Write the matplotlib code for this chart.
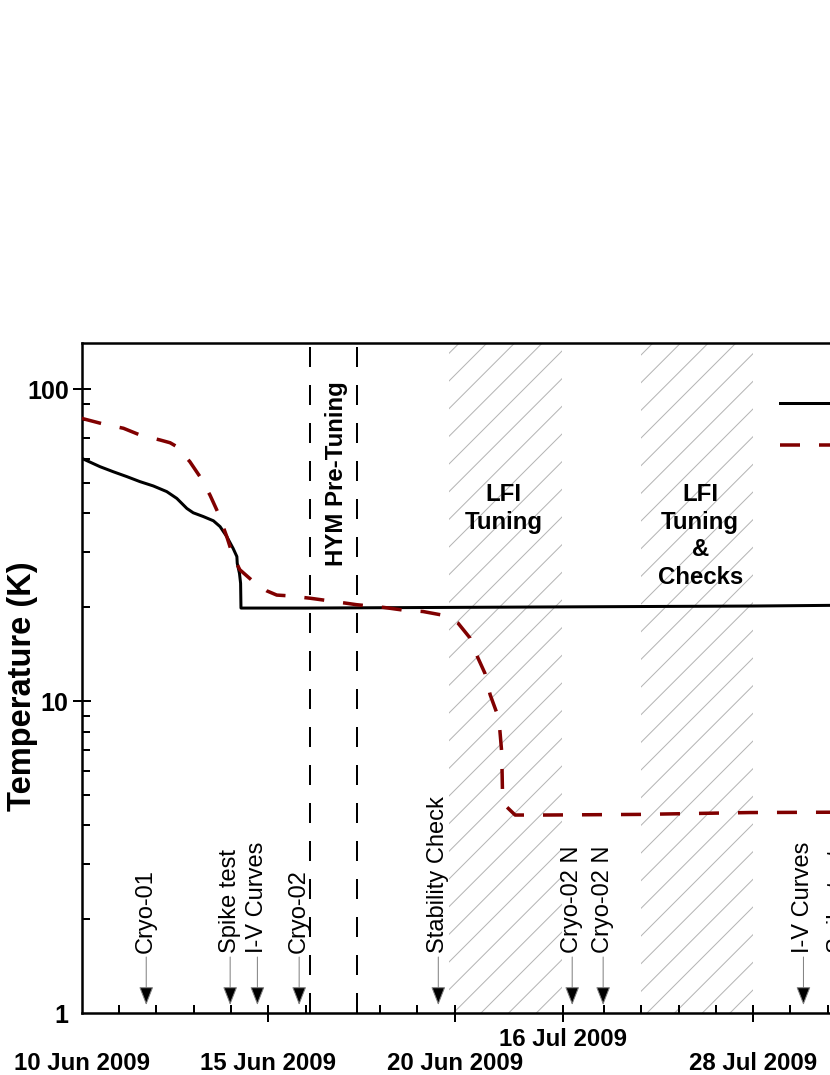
import matplotlib
matplotlib.use("Agg")
import matplotlib.pyplot as plt
from matplotlib.ticker import NullFormatter, LogLocator

DPI = 166
W, H = 830, 1075


def pt(px):
    return px * 72.0 / DPI


plt.rcParams['font.family'] = ['Liberation Sans', 'DejaVu Sans']
plt.rcParams['hatch.linewidth'] = pt(1.0)
plt.rcParams['lines.scale_dashes'] = False

# ---------------- data (x in axis units: 0 = 10 Jun 2009) ----------------
fp_x = [0.0, 0.49, 0.85, 1.21, 1.56, 1.92, 2.28, 2.55, 2.82, 2.99, 3.26, 3.53,
        3.71, 3.89, 4.06, 4.16, 4.17, 4.23, 4.26, 4.27, 6.0, 10.0, 14.0, 18.0,
        20.06, 22.0]
fp_T = [60.1, 56.5, 54.4, 52.5, 50.6, 49.0, 47.0, 44.7, 41.5, 40.2, 39.1, 37.9,
        36.3, 33.7, 30.9, 29.1, 27.7, 25.7, 23.9, 19.9, 19.9, 20.0, 20.1, 20.2,
        20.3, 20.35]

ref_x = [0.0, 0.58, 1.12, 1.56, 2.10, 2.37, 2.55, 2.90, 3.17, 3.44, 3.66, 3.89,
         4.06, 4.24, 4.60, 4.96, 5.23, 5.50, 6.12, 6.75, 7.37, 8.09, 8.62, 9.15,
         9.66, 10.09, 10.41, 10.62, 10.81, 10.95, 11.13, 11.21, 11.26, 11.28,
         11.40, 11.62, 12.42, 14.97, 17.92, 20.06, 22.0]
ref_T = [80.7, 77.4, 75.0, 71.4, 68.8, 67.4, 65.5, 58.6, 52.5, 45.8, 40.1, 33.7,
         29.1, 26.4, 24.2, 22.6, 21.9, 21.8, 21.4, 20.9, 20.4, 20.0, 19.6, 19.4,
         18.9, 17.8, 15.96, 13.8, 12.3, 10.5, 9.17, 8.09, 6.88, 5.2,
         4.58, 4.32, 4.32, 4.34, 4.40, 4.41, 4.42]

series_labels = ["LFI Focal Plane", "4K Reference Loads"]

date_ticks = [0, 5, 10, 12.9, 18]
date_labels = ["10 Jun 2009", "15 Jun 2009", "20 Jun 2009", "16 Jul 2009", "28 Jul 2009"]
date_row = [1, 1, 1, 0, 1]          # 0 = upper row, 1 = lower row
minor_ticks = [1, 2, 3, 4, 6, 8, 9, 14, 15, 16, 17, 19, 20, 21]

event_x = [1.73, 3.98, 4.71, 5.83, 9.56, 13.15, 13.98, 19.35, 20.28]
event_labels = ["Cryo-01", "Spike test", "I-V Curves", "Cryo-02", "Stability Check",
                "Cryo-02 N", "Cryo-02 N", "I-V Curves", "Spike test"]

phase_spans = [(9.85, 12.88), (15.0, 18.0)]
phase_labels = ["LFI\nTuning", "LFI\nTuning\n&\nChecks"]
phase_label_x = [11.31, 16.58]

hym_bounds = [6.13, 7.37]
hym_label = "HYM Pre-Tuning"
hym_label_x = 6.82

# ---------------- layout ----------------
X0_PX, PX_PER_U, XMAX = 81.7, 37.3, 22.0
BOTTOM_PX, TOP_PX = 1013.3, 343.3
DEC_PX = 312.0
YMAX = 10 ** ((BOTTOM_PX - TOP_PX) / DEC_PX)


def ty(ypx):
    return 10 ** ((BOTTOM_PX - ypx) / DEC_PX)


fig = plt.figure(figsize=(W / DPI, H / DPI), dpi=DPI)
ax = fig.add_axes([X0_PX / W, (H - BOTTOM_PX) / H, XMAX * PX_PER_U / W,
                   (BOTTOM_PX - TOP_PX) / H])

ax.set_xlim(0, XMAX)
ax.set_yscale('log')
ax.set_ylim(1, YMAX)

for s in ax.spines.values():
    s.set_linewidth(pt(2.5))

# hatched phases
for (a, b) in phase_spans:
    ax.axvspan(a, b, facecolor='none', edgecolor='#b4b4b4', hatch='//', lw=0,
               zorder=0)
for xl, lab in zip(phase_label_x, phase_labels):
    ax.text(xl, ty(483), lab, ha='center', va='top', fontsize=pt(24),
            fontweight='bold', linespacing=1.25, zorder=3)

# HYM pre-tuning
for xb in hym_bounds:
    ax.axvline(xb, color='black', lw=pt(2), dashes=(pt(20), pt(18)), zorder=2)
ax.text(hym_label_x, ty(474), hym_label, rotation=90, ha='center', va='center',
        fontsize=pt(24), fontweight='bold', zorder=3)

# curves
ax.plot(fp_x, fp_T, color='black', lw=pt(3), label=series_labels[0], zorder=4)
ax.plot(ref_x, ref_T, color='#800000', lw=pt(3.5), dashes=(pt(20), pt(19)),
        label=series_labels[1], zorder=4)

# events
for xv, lab in zip(event_x, event_labels):
    ax.annotate('', xy=(xv, ty(1005)), xytext=(xv, ty(957)),
                arrowprops=dict(arrowstyle='-|>,head_length=0.69,head_width=0.27',
                                fc='black', ec='#808080', lw=pt(1),
                                mutation_scale=10, shrinkA=0, shrinkB=0),
                zorder=5)
    ax.text(xv, ty(953), lab, rotation=90, ha='center', va='bottom',
            fontsize=pt(23.7), zorder=5)

# x axis
ax.set_xticks(date_ticks, date_labels, fontweight='bold')
ax.set_xticks(minor_ticks, minor=True)
ax.tick_params(axis='x', which='major', direction='inout', length=pt(17),
               width=pt(2), labelsize=pt(24))
ax.tick_params(axis='x', which='minor', direction='in', length=pt(8),
               width=pt(2))
for tick, row in zip(ax.xaxis.get_major_ticks(), date_row):
    tick.set_pad(pt(6) if row == 0 else pt(30))
ax.xaxis.get_major_ticks()[0].tick1line.set_visible(False)

# y axis
ax.set_yticks([1, 10, 100], ['1', '10', '100'], fontweight='bold')
ax.yaxis.set_minor_locator(LogLocator(base=10, subs=range(2, 10)))
ax.yaxis.set_minor_formatter(NullFormatter())
ax.tick_params(axis='y', which='major', direction='inout', length=pt(18),
               width=pt(2), labelsize=pt(25), pad=pt(4))
ax.tick_params(axis='y', which='minor', direction='in', length=pt(8),
               width=pt(2))
ax.yaxis.get_major_ticks()[0].tick1line.set_visible(False)

ax.set_ylabel('Temperature (K)', fontsize=pt(32.6), fontweight='bold')
ax.yaxis.label.set_verticalalignment('center')
ax.yaxis.set_label_coords((22.5 - X0_PX) / (XMAX * PX_PER_U),
                          (BOTTOM_PX - 686) / (BOTTOM_PX - TOP_PX))

# legend (runs past the right edge, as in the cropped reference)
ax.legend(loc='upper left',
          bbox_to_anchor=((780 - X0_PX) / (XMAX * PX_PER_U),
                          (BOTTOM_PX - 394) / (BOTTOM_PX - TOP_PX)),
          frameon=False, borderpad=0, borderaxespad=0, handlelength=3,
          handletextpad=0.8, labelspacing=0.83, fontsize=pt(24))

fig.savefig('out.png', dpi=DPI)
